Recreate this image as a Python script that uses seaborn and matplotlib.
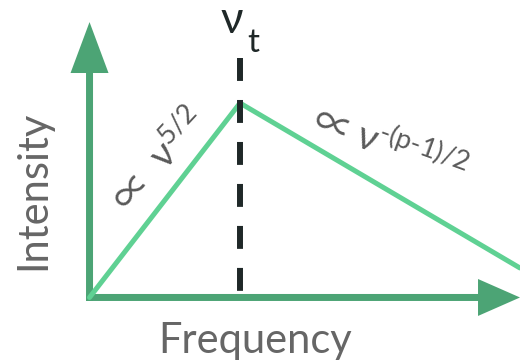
import matplotlib
matplotlib.use("Agg")
import matplotlib.pyplot as plt
import pandas as pd
import seaborn as sns

# Broken power-law spectrum: rising branch, turnover, falling branch
frequency = [0.0, 1.0, 2.86]
intensity = [0.0, 1.0, 0.152]
turnover_freq = 1.0
turnover_top = 1.231

x_label = "Frequency"
y_label = "Intensity"
prop_sign = r"$\mathsf{∝}$"
rise_power = r"$\nu^{\text{5/2}}$"
fall_power = r"$\nu^{\text{-(p-1)/2}}$"
nu_symbol = r"$\nu$"
turnover_sub = "t"

AXIS_GREEN = "#4ca475"
LINE_GREEN = "#5fd193"
TEXT_GREY = "#666666"
LABEL_GREY = "#5a5a5a"
DARK = "#1f2828"

sns.set_theme(style="white")
plt.rcParams["font.family"] = ["Lato", "DejaVu Sans"]
plt.rcParams["mathtext.fontset"] = "custom"
plt.rcParams["mathtext.rm"] = "Lato"
plt.rcParams["mathtext.it"] = "Lato"
plt.rcParams["mathtext.sf"] = "Noto Sans CJK JP"
plt.rcParams["mathtext.default"] = "rm"

fig = plt.figure(figsize=(5.2, 3.63), dpi=100)
ax = fig.add_axes([0, 0, 1, 1])
ax.set_xlim(-0.595, 2.861)
ax.set_ylim(-0.337, 1.530)
ax.axis("off")

df = pd.DataFrame({"frequency": frequency, "intensity": intensity})
sns.lineplot(data=df, x="frequency", y="intensity", color=LINE_GREEN,
             lw=3.6, ax=ax, zorder=3, legend=False)

# turnover frequency marker
ax.plot([turnover_freq, turnover_freq], [turnover_top, 0.0], color=DARK,
        lw=4.3, dashes=(3.84, 3.19), zorder=4)

# axes drawn as arrows
ax.arrow(0.0, -0.018, 0.0, 1.4345, width=0.0465, head_width=0.2525,
         head_length=0.262, length_includes_head=True, color=AXIS_GREEN,
         lw=0, zorder=2)
ax.arrow(-0.023, 0.0, 2.884, 0.0, width=0.036, head_width=0.19,
         head_length=0.279, length_includes_head=True, color=AXIS_GREEN,
         lw=0, zorder=2)

# axis titles
ax.text(-0.375, 0.553, y_label, rotation=90, ha="center", va="center",
        fontsize=30, color=TEXT_GREY)
ax.text(1.10, -0.285, x_label, ha="center", va="baseline",
        fontsize=30, color=TEXT_GREY)

# turnover label
ax.text(0.867, 1.360, nu_symbol, ha="left", va="baseline",
        fontsize=31.5, color=DARK)
ax.text(1.045, 1.262, turnover_sub, ha="left", va="baseline",
        fontsize=24, color=DARK)

# slope annotations
ax.text(0.275, 0.535, prop_sign, rotation=47, ha="center", va="center",
        rotation_mode="anchor", fontsize=28, color=LABEL_GREY)
ax.text(0.591, 0.810, rise_power, rotation=47, ha="center", va="center",
        rotation_mode="anchor", fontsize=28, color=LABEL_GREY)
ax.text(1.605, 0.892, prop_sign, rotation=-20, ha="center", va="center",
        rotation_mode="anchor", fontsize=28, color=LABEL_GREY)
ax.text(2.136, 0.741, fall_power, rotation=-20, ha="center", va="center",
        rotation_mode="anchor", fontsize=28, color=LABEL_GREY)

fig.savefig("out.png", dpi=100)
